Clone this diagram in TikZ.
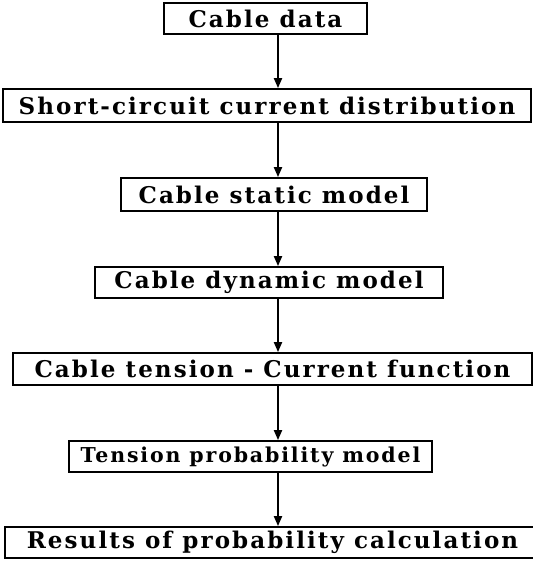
\documentclass[tikz,border=0pt]{standalone}
\usepackage{fontspec}
\setmainfont{DejaVu Serif}
\newfontfamily\boxfont[LetterSpace=9]{DejaVu Serif}
\usetikzlibrary{arrows.meta}
\tikzset{
  stepbox/.style={draw, line width=1.8pt, inner sep=0pt, align=center,
    font=\boxfont\bfseries\fontsize{23}{25}\selectfont},
  narrowbox/.style={stepbox, font=\boxfont\bfseries\fontsize{20.5}{25}\selectfont},
  flowarrow/.style={line width=2pt, -{Triangle[length=10pt,width=8pt]}}
}
\begin{document}
\begin{tikzpicture}[x=1pt,y=-1pt]
\useasboundingbox (0,0) rectangle (533,563);
\node[stepbox, minimum width=203pt, minimum height=31pt] (n1) at (265.5,18.5) {Cable data};
\node[stepbox, minimum width=528pt, minimum height=33pt] (n2) at (267,105.5) {Short-circuit current distribution};
\node[stepbox, minimum width=306pt, minimum height=33pt] (n3) at (274,194.5) {Cable static model};
\node[stepbox, minimum width=348pt, minimum height=31pt] (n4) at (269,282.5) {Cable dynamic model};
\node[stepbox, minimum width=519pt, minimum height=32pt] (n5) at (272.5,369) {Cable tension - Current function};
\node[narrowbox, minimum width=363pt, minimum height=31pt] (n6) at (250.5,456.5) {Tension probability model};
\node[stepbox, minimum width=535pt, minimum height=31pt] (n7) at (272.5,542.5) {Results of probability calculation};
\coordinate (ax) at (278,0);
\draw[flowarrow] (n1.south -| ax) -- (n2.north -| ax);
\draw[flowarrow] (n2.south -| ax) -- (n3.north -| ax);
\draw[flowarrow] (n3.south -| ax) -- (n4.north -| ax);
\draw[flowarrow] (n4.south -| ax) -- (n5.north -| ax);
\draw[flowarrow] (n5.south -| ax) -- (n6.north -| ax);
\draw[flowarrow] (n6.south -| ax) -- (n7.north -| ax);
\end{tikzpicture}
\end{document}
